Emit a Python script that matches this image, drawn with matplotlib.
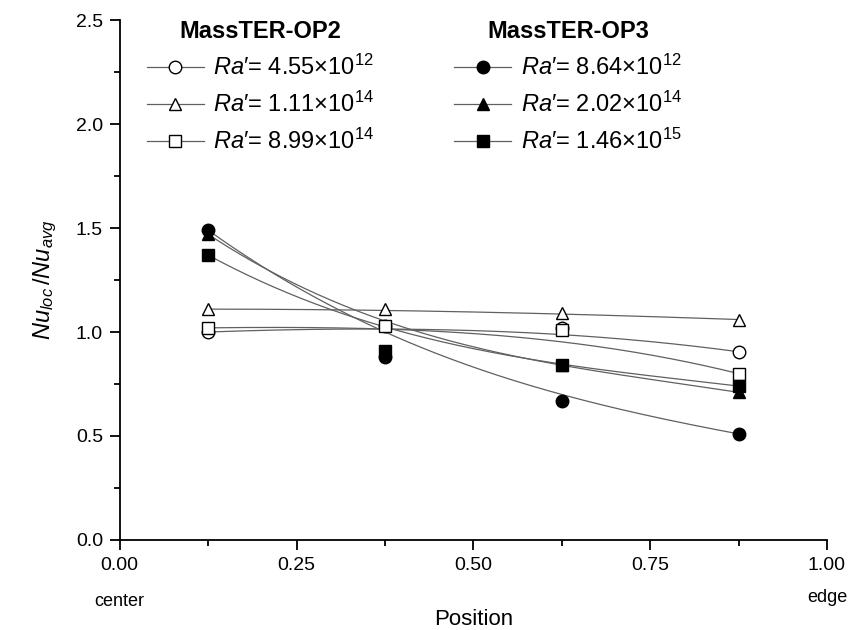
import numpy as np
import matplotlib
matplotlib.use('Agg')
import matplotlib.pyplot as plt
from matplotlib.lines import Line2D

plt.rcParams['font.family'] = ['Liberation Sans', 'DejaVu Sans']
plt.rcParams['mathtext.fontset'] = 'custom'
plt.rcParams['mathtext.rm'] = 'Liberation Sans'
plt.rcParams['mathtext.it'] = 'Liberation Sans:italic'
plt.rcParams['mathtext.bf'] = 'Liberation Sans:bold'

# data
position = [0.125, 0.375, 0.625, 0.875]

op2_labels = ['4.55', '1.11', '8.99']
op2_exps = ['12', '14', '14']
op2_values = [
    [1.00, 1.03, 1.02, 0.905],   # circle
    [1.11, 1.11, 1.09, 1.06],    # triangle
    [1.02, 1.03, 1.01, 0.80],    # square
]

op3_labels = ['8.64', '2.02', '1.46']
op3_exps = ['12', '14', '15']
op3_values = [
    [1.49, 0.88, 0.67, 0.51],
    [1.47, 0.91, 0.84, 0.71],
    [1.37, 0.91, 0.84, 0.74],
]

markers = ['o', '^', 's']


def bezier(x, y, n=200):
    # the connecting line is a B-spline (Bezier) using the points as control points
    x = np.asarray(x, float)
    y = np.asarray(y, float)
    t = np.linspace(0, 1, n)[:, None]
    w = np.hstack([(1 - t) ** 3, 3 * t * (1 - t) ** 2, 3 * t ** 2 * (1 - t), t ** 3])
    return w @ x, w @ y


fig = plt.figure(figsize=(8.49, 6.3), dpi=100)
ax = fig.add_axes([0.141, 0.143, 0.833, 0.825])

line_color = '#606060'

for vals, m in zip(op2_values, markers):
    xs, ys = bezier(position, vals)
    ax.plot(xs, ys, color=line_color, lw=0.9, zorder=2)
    ax.plot(position, vals, ls='none', marker=m, ms=9, mfc='white',
            mec='black', mew=1.0, zorder=3)

for vals, m in zip(op3_values, markers):
    xs, ys = bezier(position, vals)
    ax.plot(xs, ys, color=line_color, lw=0.9, zorder=2)
    ax.plot(position, vals, ls='none', marker=m, ms=9, mfc='black',
            mec='black', mew=1.0, zorder=3)

ax.set_xlim(0, 1.0)
ax.set_ylim(0, 2.5)
ax.set_xticks([0, 0.25, 0.5, 0.75, 1.0])
ax.set_xticklabels(['0.00', '0.25', '0.50', '0.75', '1.00'])
ax.set_xticks([0.125, 0.375, 0.625, 0.875], minor=True)
ax.set_yticks([0, 0.5, 1.0, 1.5, 2.0, 2.5])
ax.set_yticks([0.25, 0.75, 1.25, 1.75, 2.25], minor=True)

for s in ['top', 'right']:
    ax.spines[s].set_visible(False)
for s in ['left', 'bottom']:
    ax.spines[s].set_linewidth(1.3)
ax.tick_params(which='major', direction='out', length=7, width=1.3, labelsize=14, pad=5)
ax.tick_params(which='minor', direction='out', length=4, width=1.3)

ax.set_ylabel(r'$Nu_{loc}\,/Nu_{avg}$', fontsize=17, labelpad=12)
ax.text(0.0, -0.119, 'center', transform=ax.transAxes, ha='center', va='center', fontsize=13)
ax.text(1.0, -0.11, 'edge', transform=ax.transAxes, ha='center', va='center', fontsize=13)
fig.text(ax.get_position().x0 + ax.get_position().width / 2, 0.016, 'Position',
         ha='center', va='center', fontsize=16)


def make_legend(labels, exps, fill, title, loc_x):
    handles = []
    for lab, e, m in zip(labels, exps, markers):
        handles.append(Line2D([], [], color=line_color, lw=0.9, marker=m, ms=9,
                              mfc=fill, mec='black', mew=1.0,
                              label=r"$Ra$" + "\u2032= " + lab + r"$\times$10$^{" + e + "}$"))
    leg = ax.legend(handles=handles, title=title, loc='upper left',
                    bbox_to_anchor=(loc_x, 1.018), frameon=False, fontsize=17,
                    title_fontproperties={'weight': 'bold', 'size': 17},
                    handlelength=2.4, handletextpad=0.4, labelspacing=0.5,
                    borderaxespad=0)
    return leg


leg1 = make_legend(op2_labels, op2_exps, 'white', 'MassTER-OP2', 0.025)
ax.add_artist(leg1)
leg2 = make_legend(op3_labels, op3_exps, 'black', 'MassTER-OP3', 0.46)

fig.savefig('out.png', dpi=100)
